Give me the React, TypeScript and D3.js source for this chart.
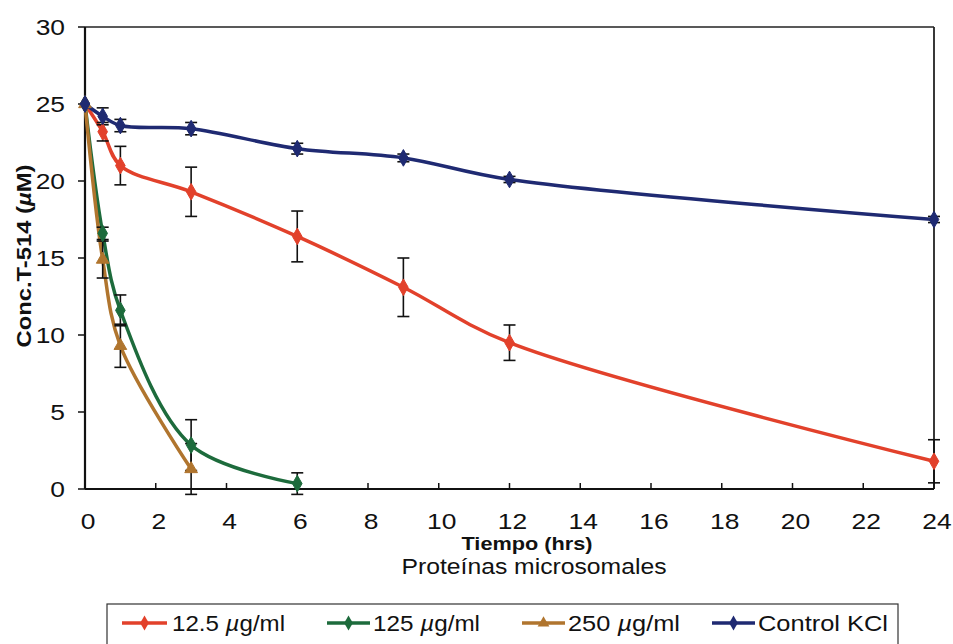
import React from "react";
import * as d3 from "d3";

const times = [0, 0.5, 1, 3, 6, 9, 12, 24];
const red = [25, 23.2, 21.0, 19.3, 16.4, 13.1, 9.5, 1.8];
const redErr = [0, 0.6, 1.25, 1.6, 1.65, 1.9, 1.15, 1.4];
const greenT = [0, 0.5, 1, 3, 6];
const green = [25, 16.6, 11.6, 2.85, 0.35];
const greenErr = [0, 0.4, 1.0, 1.65, 0.7];
const brownT = [0, 0.5, 1, 3];
const brown = [25, 14.9, 9.3, 1.3];
const brownErr = [0, 1.2, 1.4, 1.65];
const blue = [25, 24.2, 23.6, 23.4, 22.1, 21.5, 20.1, 17.5];
const blueErr = [0, 0.55, 0.4, 0.4, 0.35, 0.25, 0.2, 0.2];

const xTicks = [0, 2, 4, 6, 8, 10, 12, 14, 16, 18, 20, 22, 24];
const yTicks = [0, 5, 10, 15, 20, 25, 30];

const seriesNames = ["12.5 µg/ml", "125 µg/ml", "250 µg/ml", "Control KCl"];
const colors = ["#e2412b", "#1d6b3c", "#b0752e", "#1f2a72"];

const W = 953, H = 644;
const x = d3.scaleLinear().domain([0, 24]).range([85, 934]);
const y = d3.scaleLinear().domain([0, 30]).range([489, 27]);

const FONT = "'Liberation Sans', Arial, Helvetica, sans-serif";

type S = { t: number[]; v: number[]; e: number[]; color: string; marker: string };
const series: S[] = [
  { t: times, v: red, e: redErr, color: colors[0], marker: "diamond" },
  { t: greenT, v: green, e: greenErr, color: colors[1], marker: "diamond" },
  { t: brownT, v: brown, e: brownErr, color: colors[2], marker: "triangle" },
  { t: times, v: blue, e: blueErr, color: colors[3], marker: "diamond" },
];

const symPath = (m: string, size: number) =>
  d3.symbol().type(m === "triangle" ? d3.symbolTriangle : d3.symbolDiamond).size(size)() as string;

const line = d3
  .line<[number, number]>()
  .x((d) => x(d[0]))
  .y((d) => y(d[1]))
  .curve(d3.curveCatmullRom.alpha(0.5));

function Label({ text, xx, yy, size, bold, len, anchor }: any) {
  const parts = text.split("µ");
  return (
    <text
      x={xx}
      y={yy}
      fontSize={size}
      fontWeight={bold ? "bold" : "normal"}
      fontFamily={FONT}
      textAnchor={anchor || "start"}
      textLength={len}
      lengthAdjust="spacingAndGlyphs"
      fill="#111"
    >
      {parts.length > 1 ? (
        <>
          {parts[0]}
          <tspan fontStyle="italic">µ</tspan>
          {parts[1]}
        </>
      ) : (
        text
      )}
    </text>
  );
}

export default function App() {
  const legendItems = [
    { lx0: 122, lx1: 167, tx: 172, tl: 113 },
    { lx0: 327, lx1: 370, tx: 373, tl: 107 },
    { lx0: 522, lx1: 565, tx: 568, tl: 112 },
    { lx0: 712, lx1: 755, tx: 758, tl: 130 },
  ];
  return (
    <svg width={W} height={H} style={{ position: "absolute", left: 0, top: 0, background: "#fff" }}>
      <rect x={0} y={0} width={W} height={H} fill="#fff" />
      {/* frame */}
      <line x1={x(0)} x2={x(24)} y1={y(30)} y2={y(30)} stroke="#222" strokeWidth={1.5} />
      <line x1={x(24)} x2={x(24)} y1={y(30)} y2={y(0)} stroke="#222" strokeWidth={1.8} />
      <line x1={x(0)} x2={x(0)} y1={y(30)} y2={y(0)} stroke="#111" strokeWidth={2.2} />
      <line x1={x(0)} x2={x(24)} y1={y(0)} y2={y(0)} stroke="#111" strokeWidth={2.2} />
      {yTicks.map((t) => (
        <g key={"y" + t}>
          <line x1={x(0) - 7} x2={x(0)} y1={y(t)} y2={y(t)} stroke="#111" strokeWidth={1.5} />
          <text
            transform={`translate(65,${y(t)}) scale(1.2,1)`}
            dy="0.36em"
            textAnchor="end"
            fontSize={22}
            fontFamily={FONT}
            fill="#111"
          >
            {t}
          </text>
        </g>
      ))}
      {xTicks.map((t) => (
        <g key={"x" + t}>
          <line x1={x(t)} x2={x(t)} y1={y(0)} y2={y(0) - 6} stroke="#111" strokeWidth={1.5} />
          <text
            transform={`translate(${x(t) + 3},529) scale(1.2,1)`}
            textAnchor="middle"
            fontSize={22}
            fontFamily={FONT}
            fill="#111"
          >
            {t}
          </text>
        </g>
      ))}
      {/* lines */}
      {series.map((s, i) => (
        <path
          key={"l" + i}
          d={line(s.t.map((t, j) => [t, s.v[j]] as [number, number])) as string}
          fill="none"
          stroke={s.color}
          strokeWidth={3.5}
          strokeLinejoin="round"
        />
      ))}
      {/* error bars */}
      {series.map((s, i) => (
        <g key={"e" + i}>
          {s.t.map((t, j) =>
            s.e[j] > 0 ? (
              <g key={j} stroke="#111" strokeWidth={1.6}>
                <line x1={x(t)} x2={x(t)} y1={y(s.v[j] + s.e[j])} y2={y(s.v[j] - s.e[j])} />
                <line x1={x(t) - 6} x2={x(t) + 6} y1={y(s.v[j] + s.e[j])} y2={y(s.v[j] + s.e[j])} />
                <line x1={x(t) - 6} x2={x(t) + 6} y1={y(s.v[j] - s.e[j])} y2={y(s.v[j] - s.e[j])} />
              </g>
            ) : null
          )}
        </g>
      ))}
      {/* markers */}
      {series.map((s, i) => (
        <g key={"m" + i}>
          {s.t.map((t, j) => (
            <path
              key={j}
              d={symPath(s.marker, s.marker === "triangle" ? 70 : 80)}
              transform={`translate(${x(t)},${y(s.v[j])})`}
              fill={s.color}
              stroke={s.color}
              strokeWidth={1}
            />
          ))}
        </g>
      ))}
      {/* axis titles */}
      <g transform="translate(31,256) rotate(-90)">
        <Label text="Conc.T-514 (µM)" xx={0} yy={0} size={20} bold len={183} anchor="middle" />
      </g>
      <Label text="Tiempo (hrs)" xx={527} yy={550} size={19} bold len={131} anchor="middle" />
      <Label text="Proteínas microsomales" xx={534} yy={574} size={22} len={265} anchor="middle" />
      {/* legend */}
      <rect x={107} y={604} width={791} height={60} fill="#fff" stroke="#333" strokeWidth={1.2} />
      {legendItems.map((it, i) => (
        <g key={"lg" + i}>
          <line x1={it.lx0} x2={it.lx1} y1={623} y2={623} stroke={colors[i]} strokeWidth={3.5} />
          <path
            d={symPath(series[i].marker, series[i].marker === "triangle" ? 60 : 65)}
            transform={`translate(${(it.lx0 + it.lx1) / 2},623)`}
            fill={colors[i]}
          />
          <Label text={seriesNames[i]} xx={it.tx} yy={631} size={22} len={it.tl} />
        </g>
      ))}
    </svg>
  );
}
